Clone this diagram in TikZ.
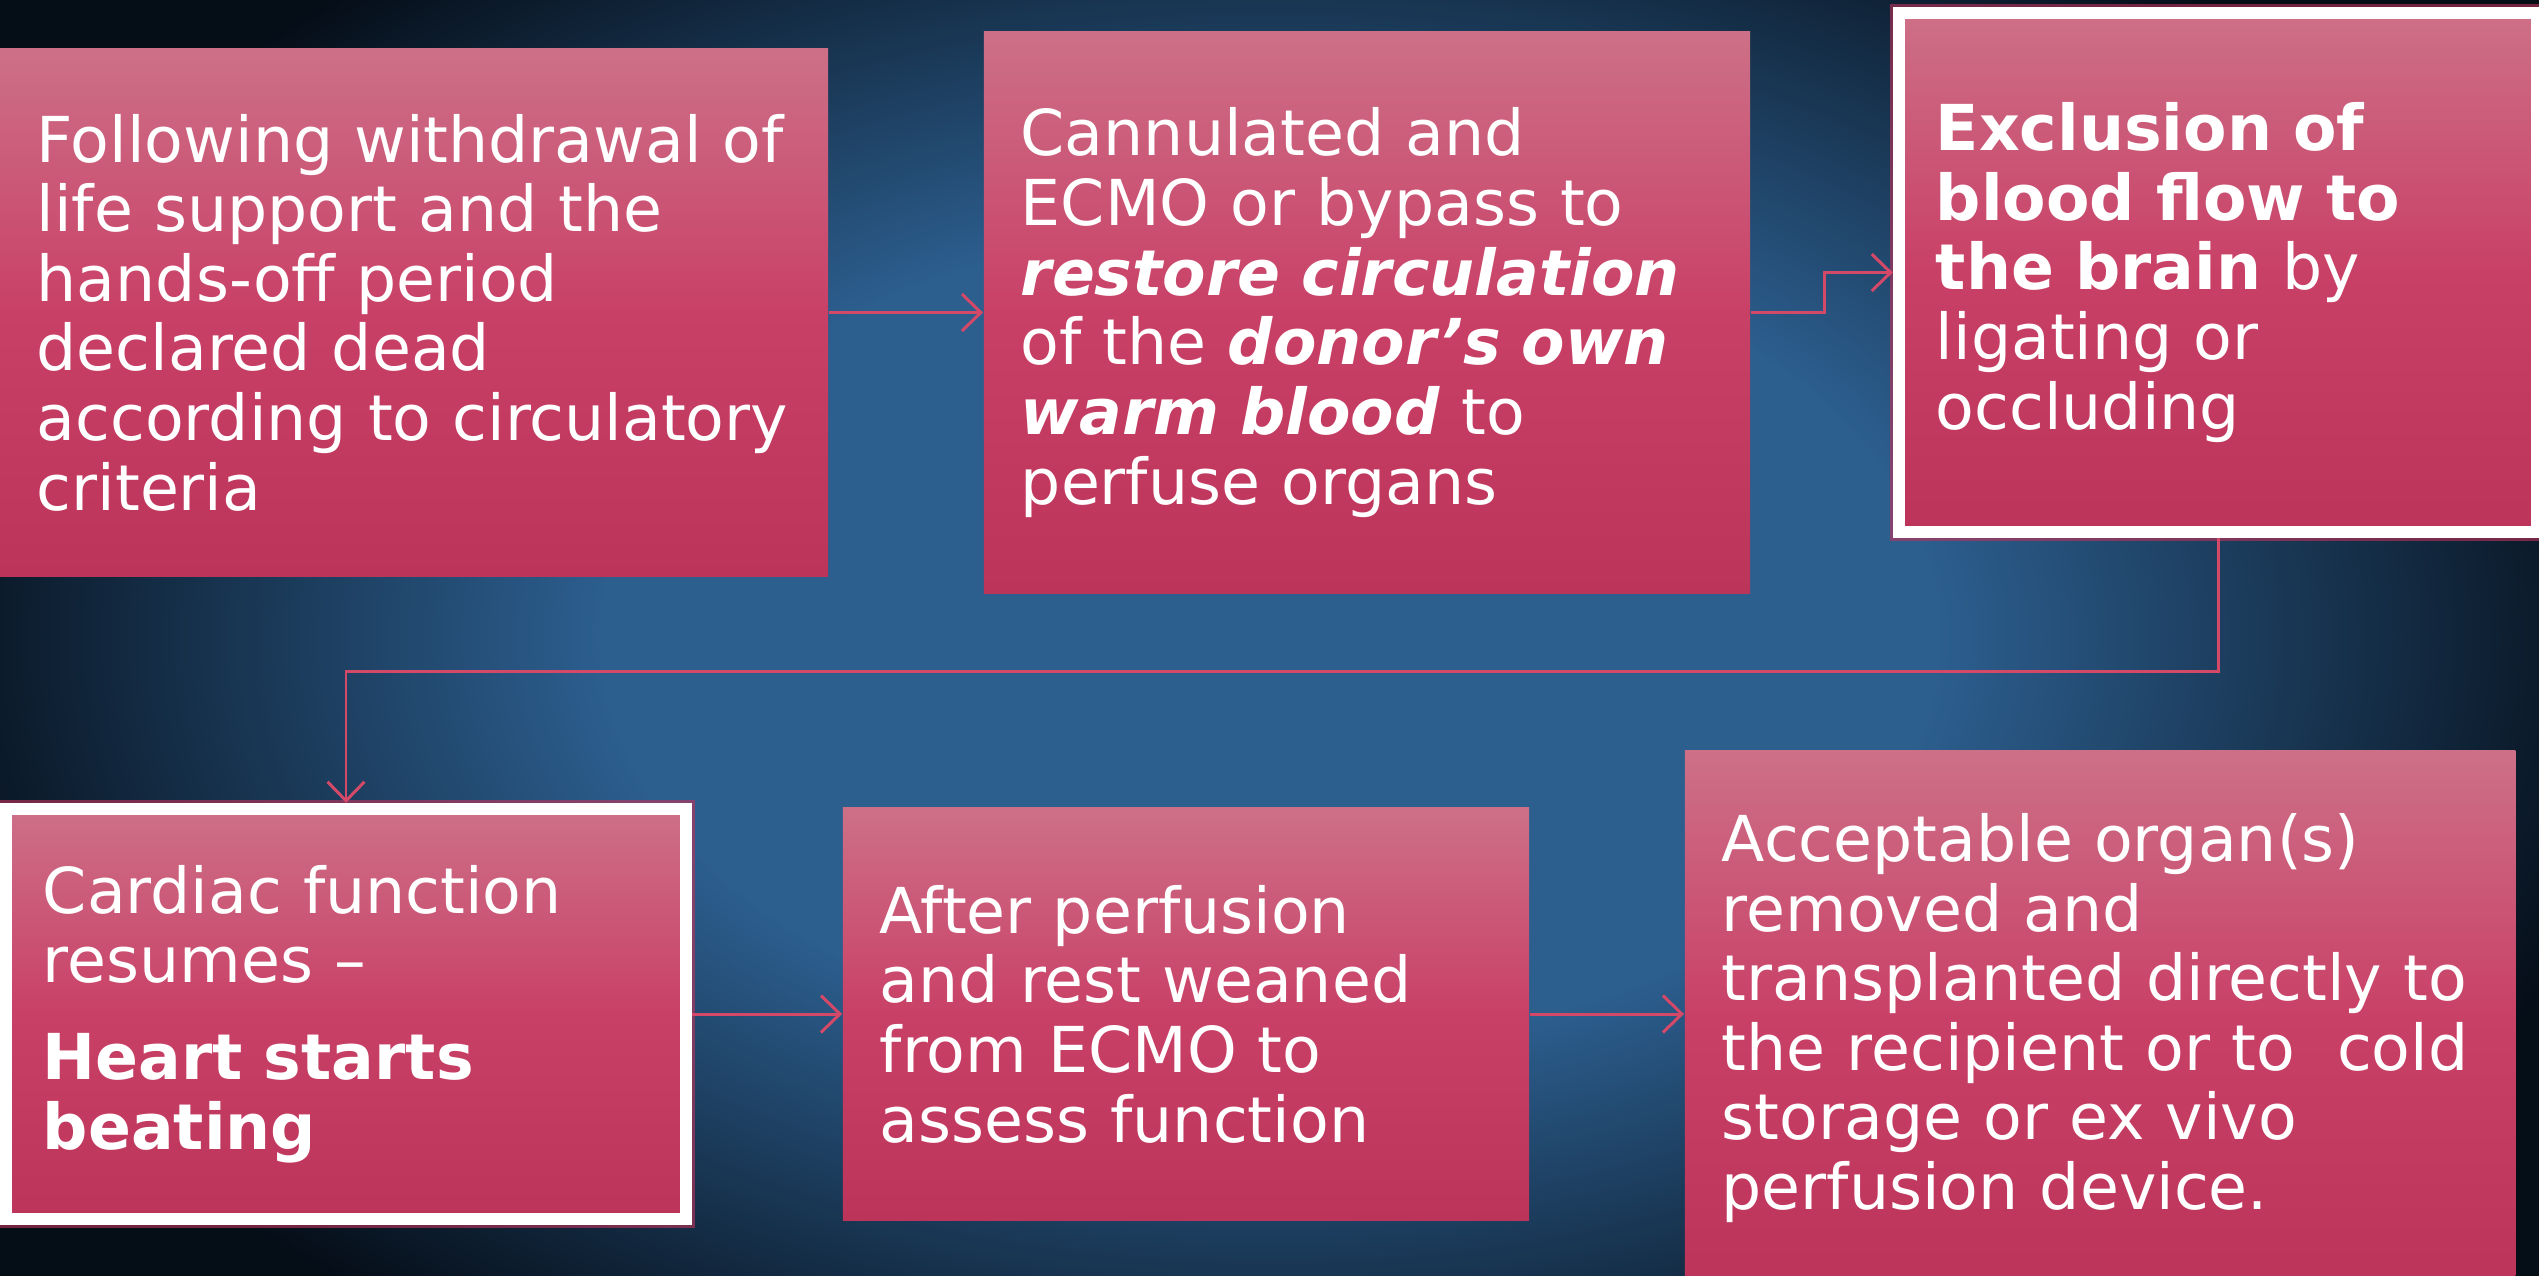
\documentclass[tikz,border=0pt]{standalone}
\usepackage{fontspec}
\setmainfont{DejaVu Sans}
\usetikzlibrary{arrows.meta}

\definecolor{boxtop}{RGB}{205,112,135}
\definecolor{boxmid}{RGB}{201,64,102}
\definecolor{boxbot}{RGB}{189,52,90}
\definecolor{linkpink}{RGB}{212,72,104}
\definecolor{glowpink}{RGB}{190,50,90}
\definecolor{bgin}{RGB}{44,94,142}
\definecolor{bgout}{RGB}{5,13,23}

\pgfdeclareradialshading{bgfield}{\pgfpoint{0bp}{0bp}}{color(0bp)=(bgin); color(11bp)=(bgin); color(23bp)=(bgout); color(50bp)=(bgout)}

\tikzset{
  stepbox/.style={rectangle, inner ysep=0pt, inner xsep=0.37cm,
    top color=boxtop, bottom color=boxbot, middle color=boxmid,
    align=left, text=white, font=\fontsize{18}{19.8}\selectfont},
  framed/.style={draw=white, line width=3.4pt,
    preaction={draw=glowpink, line width=5.2pt, opacity=0.6}},
  link/.style={draw=linkpink, line width=0.85pt,
    -{Straight Barb[length=5.4pt,width=10.5pt]}},
}

\begin{document}
\begin{tikzpicture}[x=0.01cm,y=-0.01cm]

% page and background
\path[use as bounding box, clip] (0,0) rectangle (2539,1275);
\shade[shading=bgfield] (-250,-300) rectangle (2789,1575);

% top row
\node[stepbox, text width=7.54cm, minimum height=5.27cm] (b1) at (414,312.5)
  {Following withdrawal of\\ life support and the\\ hands-off period\\
   declared dead\\ according to circulatory\\ criteria};
\node[stepbox, text width=6.92cm, minimum height=5.61cm] (b2) at (1367,312.5)
  {Cannulated and\\ ECMO or bypass to\\ \textbf{\textit{restore circulation}}\\
   of the \textbf{\textit{donor’s own}}\\ \textbf{\textit{warm blood}} to\\ perfuse organs};
\node[stepbox, framed, text width=5.64cm, minimum height=5.19cm] (b3) at (2218,272.5)
  {\textbf{Exclusion of}\\ \textbf{blood flow to}\\ \textbf{the brain} by\\
   ligating or\\ occluding};

% bottom row
\node[stepbox, framed, text width=6.06cm, minimum height=4.10cm] (b4) at (346,1014)
  {Cardiac function\\ resumes –\\[7.7pt] \textbf{Heart starts}\\ \textbf{beating}};
\node[stepbox, text width=6.12cm, minimum height=4.12cm] (b5) at (1186,1014)
  {After perfusion\\ and rest weaned\\ from ECMO to\\ assess function};
\node[stepbox, text width=7.56cm, minimum height=5.34cm] (b6) at (2100,1018)
  {Acceptable organ(s)\\ removed and\\ transplanted directly to\\
   the recipient or to\ \ cold\\ storage or ex vivo\\ perfusion device.};

% connectors
\draw[link] (b1.east) -- (b2.west);
\draw[link] (b2.east) -- ++(74,0) |- (b3.west);
\draw[link] (b3.south) -- ++(0,133) -| (b4.north);
\draw[link] (b4.east) -- (b5.west);
\draw[link] (b5.east) -- (b5.east -| b6.west);

\end{tikzpicture}
\end{document}
